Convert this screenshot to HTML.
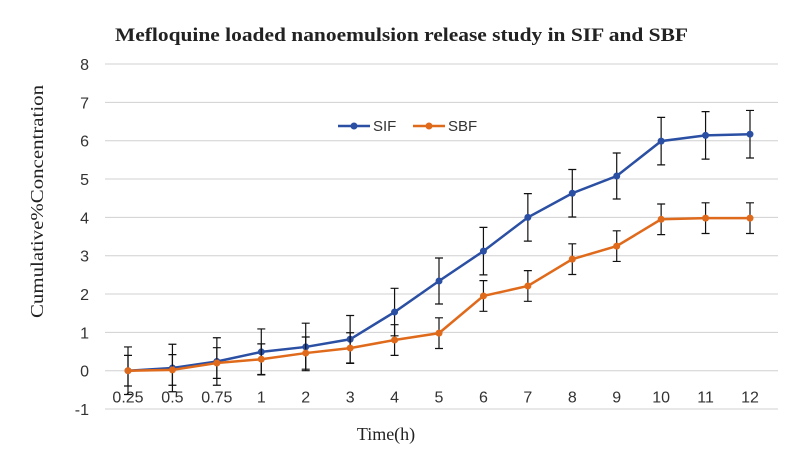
<!DOCTYPE html>
<html><head><meta charset="utf-8"><style>
body{margin:0;background:#fff;}
svg text{font-family:"Liberation Sans",sans-serif;}
</style></head><body>
<svg id="chart" width="794" height="469" xmlns="http://www.w3.org/2000/svg">
<text x="115" y="41" textLength="573" lengthAdjust="spacingAndGlyphs" style="font-family:'Liberation Serif',serif;font-weight:bold;font-size:19px" fill="#222">Mefloquine  loaded nanoemulsion  release study in SIF and SBF</text>
<text transform="translate(43,318) rotate(-90)" textLength="233" lengthAdjust="spacingAndGlyphs" style="font-family:'Liberation Serif',serif;font-size:18px" fill="#222">Cumulative%Concentration</text>
<text x="386" y="440" text-anchor="middle" style="font-family:'Liberation Serif',serif;font-size:18px" fill="#222">Time(h)</text>
<g id="grid"></g><g id="marks"></g>
<g>
<line x1="338" y1="126" x2="370" y2="126" stroke="#2a4fa3" stroke-width="2.5"/><circle cx="354" cy="126" r="3.5" fill="#2a4fa3"/>
<text x="373" y="131" font-size="15" fill="#333">SIF</text>
<line x1="413" y1="126" x2="445" y2="126" stroke="#e06a1b" stroke-width="2.5"/><circle cx="429" cy="126" r="3.5" fill="#e06a1b"/>
<text x="448" y="131" font-size="15" fill="#333">SBF</text>
</g>
</svg>
<script>
const categories=["0.25","0.5","0.75","1","2","3","4","5","6","7","8","9","10","11","12"];
const sifValues=[0,0.07,0.24,0.49,0.62,0.82,1.53,2.34,3.12,4.0,4.63,5.08,5.99,6.14,6.17];
const sifErrors=[0.62,0.62,0.62,0.6,0.62,0.62,0.62,0.6,0.62,0.62,0.62,0.6,0.62,0.62,0.62];
const sbfValues=[0,0.02,0.2,0.3,0.46,0.59,0.8,0.98,1.95,2.21,2.91,3.25,3.95,3.98,3.98];
const sbfErrors=[0.4,0.4,0.4,0.4,0.42,0.4,0.4,0.4,0.4,0.4,0.4,0.4,0.4,0.4,0.4];
const yTicks=[-1,0,1,2,3,4,5,6,7,8];
const NS="http://www.w3.org/2000/svg";
const x=i=>128+i*(750-128)/(categories.length-1);
const y=v=>370.7-v*38.33;
const grid=document.getElementById('grid'),marks=document.getElementById('marks');
function mk(tag,attrs,parent){const e=document.createElementNS(NS,tag);for(const k in attrs)e.setAttribute(k,attrs[k]);parent.appendChild(e);return e;}
yTicks.forEach(t=>{
 const l=mk('line',{x1:105,x2:778,y1:y(t),y2:y(t),stroke:'#d0d0d0','stroke-width':1},grid);
 
 
 const tx=mk('text',{x:89,y:y(t)+6,'text-anchor':'end','font-size':16,fill:'#333'},grid);
 tx.textContent=t;
 
 
});
categories.forEach((c,i)=>{
 const tx=mk('text',{x:x(i),y:y(0)+32,'text-anchor':'middle','font-size':16,fill:'#333'},grid);
 tx.textContent=c;
 
 
});
function series(vals,errs,color,name){
 const g=mk('g',{},marks);
 
 
 const p=mk('polyline',{points:vals.map((v,i)=>x(i)+','+y(v)).join(' '),fill:'none',stroke:color,'stroke-width':2.5},g);
 
 
 vals.forEach((v,i)=>{
  const e=mk('path',{d:`M${x(i)},${y(v-errs[i])}V${y(v+errs[i])}M${x(i)-4},${y(v-errs[i])}h8M${x(i)-4},${y(v+errs[i])}h8`,stroke:'#111','stroke-width':1.2,fill:'none'},g);
  
  
 });
 vals.forEach((v,i)=>{
  const c=mk('circle',{cx:x(i),cy:y(v),r:3.5,fill:color},g);
  
  
 });
}
series(sifValues,sifErrors,'#2a4fa3','sif');
series(sbfValues,sbfErrors,'#e06a1b','sbf');
</script>
</body></html>
